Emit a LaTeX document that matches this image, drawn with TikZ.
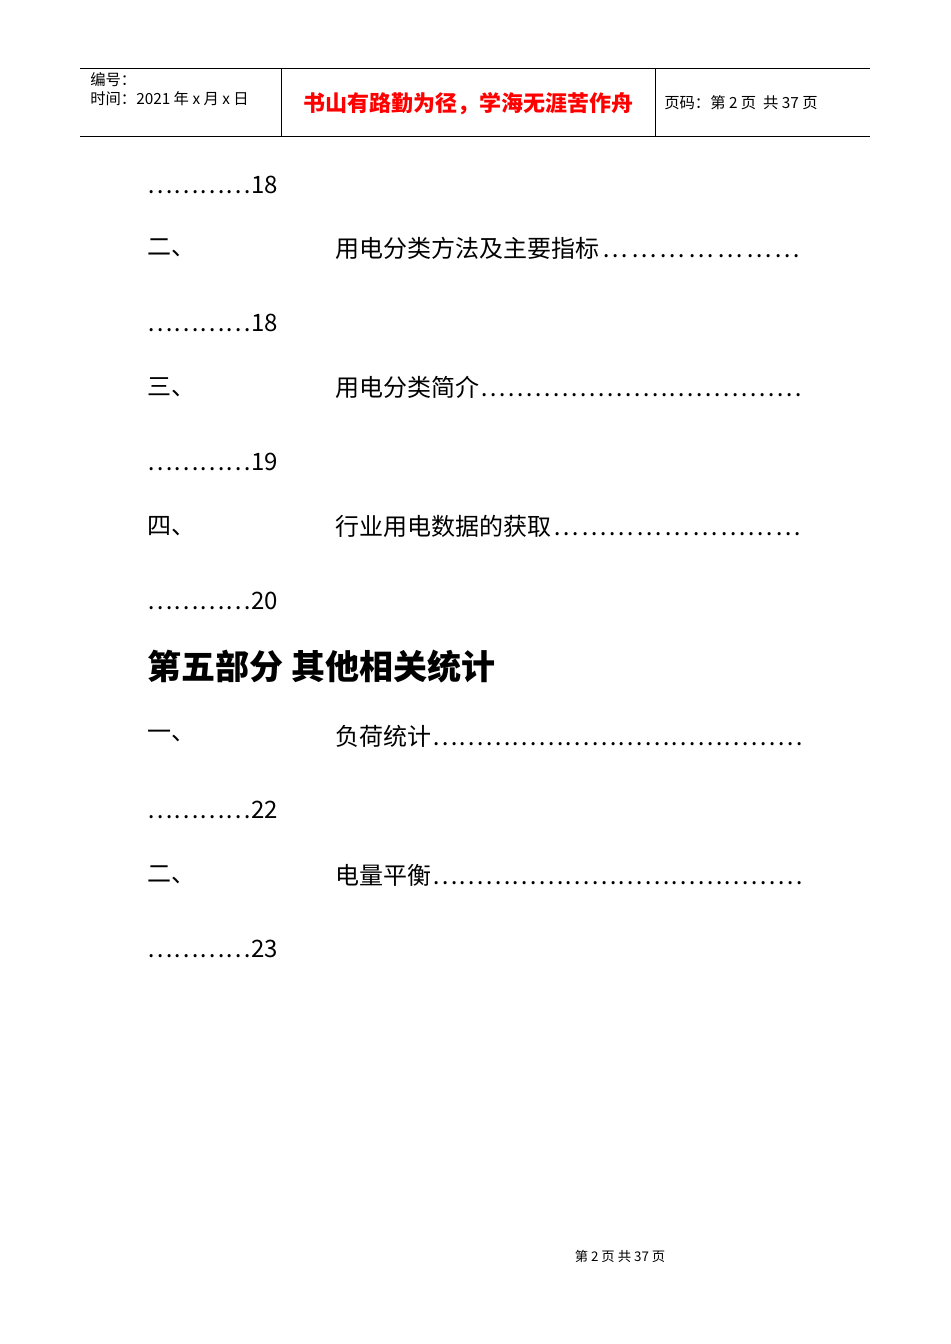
\documentclass[tikz,border=0pt]{standalone}
\usepackage{fontspec}
\setmainfont{Liberation Sans}
\newfontfamily\cjk{Noto Sans CJK SC}
\begin{document}
\begin{tikzpicture}[x=0.75pt,y=-0.75pt,
  hd/.style={anchor=west,inner sep=0pt,font=\cjk\fontsize{11.5}{13}\selectfont},
  body/.style={anchor=west,inner sep=0pt,font=\cjk\fontsize{18}{20}\selectfont},
  entry/.style={body,text width=351pt,align=left}]
\useasboundingbox (0,0) rectangle (950,1344);
\draw[line width=0.6pt] (80,68) -- (870,68);
\draw[line width=0.6pt] (80,136) -- (870,136);
\draw[line width=0.6pt] (281,68) -- (281,136);
\draw[line width=0.6pt] (655,68) -- (655,136);
\node[hd] (h1) at (90,80) {编号：};
\node[hd] (h2) at (90,99) {时间：2021 年 x 月 x 日};
\node[inner sep=0pt,text=red,font=\cjk\bfseries\fontsize{16.5}{18}\selectfont] (motto) at (468,104) {书山有路勤为径，学海无涯苦作舟};
\node[hd] (pg) at (664,103) {页码：第 2 页\ \ 共 37 页};
\def\el{\makebox[19.5pt][c]{…}}
\def\dl{\xleaders\hbox{\el}\hfill\null}
\node[body] (d0) at (147,185) {\el\el\el\el 18};
\node[body] (n1) at (147,248) {二、};
\node[entry] (t1) at (335,248) {用电分类方法及主要指标\dl};
\node[body] (d1) at (147,323) {\el\el\el\el 18};
\node[body] (n2) at (147,387) {三、};
\node[entry] (t2) at (335,387) {用电分类简介\dl};
\node[body] (d2) at (147,462) {\el\el\el\el 19};
\node[body] (n3) at (147,526) {四、};
\node[entry] (t3) at (335,526) {行业用电数据的获取\dl};
\node[body] (d3) at (147,601) {\el\el\el\el 20};
\node[anchor=west,inner sep=0pt,font=\cjk\bfseries\fontsize{25.5}{28}\selectfont] (sec) at (147,667) {第五部分\ 其他相关统计};
\node[body] (n4) at (147,736) {一、};
\node[entry] (t4) at (335,736) {负荷统计\dl};
\node[body] (d4) at (147,810) {\el\el\el\el 22};
\node[body] (n5) at (147,875) {二、};
\node[entry] (t5) at (335,875) {电量平衡\dl};
\node[body] (d5) at (147,949) {\el\el\el\el 23};
\node[inner sep=0pt,font=\cjk\fontsize{10}{12}\selectfont] (foot) at (620,1256) {第\ 2\ 页\ 共\ 37\ 页};
\end{tikzpicture}
\end{document}
